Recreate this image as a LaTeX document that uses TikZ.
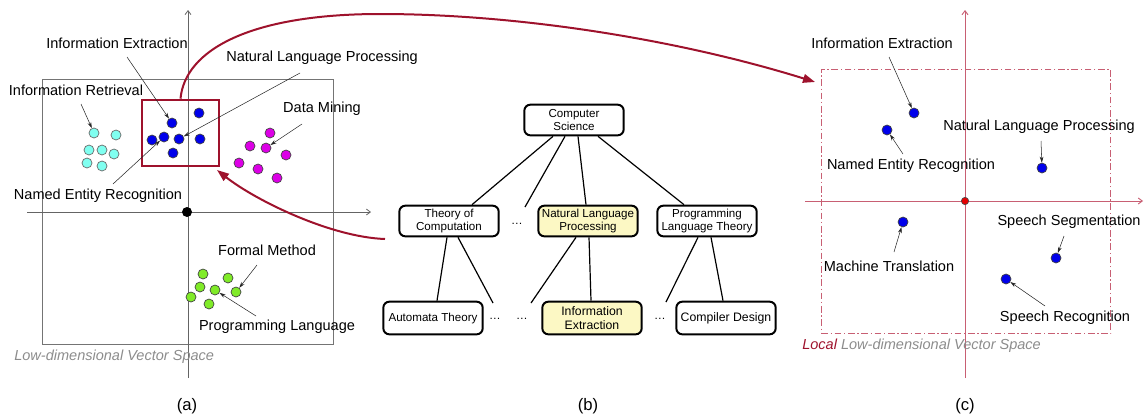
\documentclass[tikz,border=0pt]{standalone}
\usepackage{fontspec}
\setmainfont{Liberation Sans}
\usetikzlibrary{arrows.meta,calc}
\definecolor{dred}{RGB}{158,18,44}
\definecolor{axred}{RGB}{200,95,115}
\definecolor{dotblue}{RGB}{0,0,235}
\definecolor{dotcyan}{RGB}{128,255,240}
\definecolor{dotmag}{RGB}{220,0,230}
\definecolor{dotgreen}{RGB}{128,235,40}
\definecolor{nodeyel}{RGB}{252,248,196}
\definecolor{spacegray}{RGB}{140,140,140}
\definecolor{axgray}{RGB}{100,100,100}
\begin{document}
\begin{tikzpicture}[x=0.75pt,y=-0.75pt,
  lbl/.style={font=\fontsize{10.9}{12}\selectfont, inner sep=0pt},
  captxt/.style={font=\fontsize{12.5}{14}\selectfont, inner sep=0pt},
  ptr/.style={-{Stealth[length=4.5pt,width=2.8pt]}, line width=0.4pt, black!85},
  dotbase/.style={circle, draw=black!75, line width=0.5pt, minimum size=7.5pt, inner sep=0pt},
  bdot/.style={dotbase, fill=dotblue},
  cdot/.style={dotbase, fill=dotcyan, draw=black!60},
  mdot/.style={dotbase, fill=dotmag},
  gdot/.style={dotbase, fill=dotgreen},
  tbox/.style={draw, line width=1.5pt, rounded corners=4.5pt, minimum width=74.5pt,
     minimum height=23pt, align=center, inner sep=1pt, font=\fontsize{8.7}{9.8}\selectfont},
  tboxb/.style={tbox, minimum height=24.5pt},
  hl/.style={fill=nodeyel},
  tedge/.style={line width=0.9pt},
  tdots/.style={font=\fontsize{8.7}{10}\selectfont, inner sep=0pt},
  bigred/.style={draw=dred, line width=1.5pt, -{Triangle[length=9pt,width=6.5pt]}},
  gaxis/.style={draw=axgray, line width=0.6pt, -{Straight Barb[length=3pt,width=4.5pt]}},
  raxis/.style={draw=axred, line width=0.7pt, -{Straight Barb[length=3pt,width=4.5pt]}}
]
\useasboundingbox (0,0) rectangle (1144,415);

% ---------------- panel (a) ----------------
\draw[draw=axgray!90, line width=0.6pt] (42,79) rectangle (333,344);
\draw[gaxis] (188,378) -- (188,10);
\draw[gaxis] (27,212) -- (371,212);
\node[circle, fill=black, minimum size=7.5pt, inner sep=0pt] (oA) at (187,212) {};

\node[draw=dred, line width=1.5pt, minimum width=58pt, minimum height=50pt, inner sep=0pt] (nlpbox) at (180.5,133) {};

\foreach \p [count=\i] in {(172,123),(199,113),(152,140),(164,137),(179,139),(200,139),(173,153)}
  \node[bdot] (b\i) at \p {};
\foreach \p [count=\i] in {(94,133),(116,135),(89,150),(102,150),(114,154),(87,163),(102,166)}
  \node[cdot] (c\i) at \p {};
\foreach \p [count=\i] in {(270,133),(250,146),(266,148),(286,155),(239,163),(258,169),(277,178)}
  \node[mdot] (m\i) at \p {};
\foreach \p [count=\i] in {(203,274),(228,278),(200,287),(215,290),(236,292),(191,297),(209,304)}
  \node[gdot] (g\i) at \p {};

\node[lbl] (ieA) at (117,43) {Information Extraction};
\node[lbl] (nlpA) at (322,58) {Natural Language Processing};
\node[lbl] (irA) at (76,90) {Information Retrieval};
\node[lbl] (dmA) at (322,109) {Data Mining};
\node[lbl] (nerA) at (98,196) {Named Entity Recognition};
\node[lbl] (fmA) at (267,250) {Formal Method};
\node[lbl] (plA) at (277,327) {Programming Language};

\coordinate (pieA) at (127,57);
\coordinate (pnlpA) at (300,73);
\coordinate (pirA) at (81,104);
\coordinate (pdmA) at (302,124);
\coordinate (pnerA) at (113,184);
\coordinate (pfmA) at (257,265);
\coordinate (pplA) at (256,316);
\draw[ptr] (pieA) -- (b1);
\draw[ptr] (pnlpA) -- (b5);
\draw[ptr] (pirA) -- (c1);
\draw[ptr] (pdmA) -- (m3);
\draw[ptr] (pnerA) -- (b4);
\draw[ptr] (pfmA) -- (g5);
\draw[ptr] (pplA) -- (g4);

\node[lbl, anchor=west, text=spacegray, font=\fontsize{10.9}{12}\selectfont\itshape] (spaceA) at (14,357) {Low-dimensional Vector Space};
\node[captxt] (capA) at (187,406) {(a)};

% ---------------- panel (b) ----------------
\node[tbox] (cs) at (574,120) {Computer\\Science};
\node[tbox] (toc) at (449,221) {Theory of\\Computation};
\node[tbox, hl] (nlp) at (588,221) {Natural Language\\Processing};
\node[tbox] (plt) at (707,221) {Programming\\Language Theory};
\node[tboxb] (at) at (433,318) {Automata Theory};
\node[tboxb, hl, font=\fontsize{9.2}{10.5}\selectfont] (ie) at (592,318) {Information\\Extraction};
\node[tboxb, font=\fontsize{9.2}{10.5}\selectfont] (cd) at (726,318) {Compiler Design};

\node[tdots] (d1) at (517,224) {\ldots};
\node[tdots] (d2) at (495,319) {\ldots};
\node[tdots] (d3) at (522,319) {\ldots};
\node[tdots] (d4) at (660,319) {\ldots};

\coordinate (e1) at (525,207);
\coordinate (e2) at (493,303);
\coordinate (e3) at (531,303);
\coordinate (e4) at (666,302);

\draw[tedge] ($(cs.south)+(-21,0)$) -- ($(toc.north)+(23,0)$);
\draw[tedge] ($(cs.south)+(-9,0)$) -- (e1);
\draw[tedge] ($(cs.south)+(4,0)$) -- ($(nlp.north)+(-2,0)$);
\draw[tedge] ($(cs.south)+(24,0)$) -- ($(plt.north)+(-23,0)$);
\draw[tedge] ($(toc.south)+(-2,0)$) -- ($(at.north)+(4,0)$);
\draw[tedge] ($(toc.south)+(9,0)$) -- (e2);
\draw[tedge] ($(nlp.south)+(-12,0)$) -- (e3);
\draw[tedge] ($(nlp.south)+(1,0)$) -- ($(ie.north)+(-1,0)$);
\draw[tedge] ($(plt.south)+(-9,0)$) -- (e4);
\draw[tedge] ($(plt.south)+(4,0)$) -- ($(cd.north)+(-3,0)$);

\node[captxt] (capB) at (588,406) {(b)};

% ---------------- panel (c) ----------------
\draw[raxis] (965,378) -- (965,10);
\draw[raxis] (805,201) -- (1143,201);
\node[draw=axred, line width=0.6pt, dash pattern=on 5pt off 2pt on 1pt off 2pt,
  minimum width=217pt, minimum height=198.5pt, inner sep=0pt] (localbox) at (966,201.5) {};
\node[circle, fill=red!90!black, draw=black!70, line width=0.5pt, minimum size=5.5pt, inner sep=0pt] (oC) at (965,201) {};

\node[bdot] (cie) at (914,113) {};
\node[bdot] (cner) at (887,130) {};
\node[bdot] (cnlp) at (1042,168) {};
\node[bdot] (cmt) at (903,222) {};
\node[bdot] (css) at (1056,258) {};
\node[bdot] (csr) at (1006,279) {};

\node[lbl] (ieC) at (882,43) {Information Extraction};
\node[lbl] (nlpC) at (1039,127) {Natural Language Processing};
\node[lbl] (nerC) at (911,166) {Named Entity Recognition};
\node[lbl] (mtC) at (889,266) {Machine Translation};
\node[lbl] (ssC) at (1069,222) {Speech Segmentation};
\node[lbl] (srC) at (1065,318) {Speech Recognition};

\coordinate (pieC) at (889,57);
\coordinate (pnlpC) at (1041,141);
\coordinate (pnerC) at (903,154);
\coordinate (pmtC) at (894,252);
\coordinate (pssC) at (1064,236);
\coordinate (psrC) at (1045,306);
\draw[ptr] (pieC) -- (cie);
\draw[ptr] (pnlpC) -- (cnlp);
\draw[ptr] (pnerC) -- (cner);
\draw[ptr] (pmtC) -- (cmt);
\draw[ptr] (pssC) -- (css);
\draw[ptr] (psrC) -- (csr);

\node[lbl, anchor=west, font=\fontsize{10.9}{12}\selectfont\itshape] (spaceC) at (802,346)
  {\textcolor{dred}{Local} \textcolor{spacegray}{Low-dimensional Vector Space}};
\node[captxt] (capC) at (965,406) {(c)};

% ---------------- connecting curves ----------------
\coordinate (endC) at (815,82);
\draw[bigred] (nlpbox.north) .. controls (185,50) and (250,14) .. (380,14)
   .. controls (520,14) and (680,40) .. (endC);
\coordinate (startB) at (385,239);
\coordinate (tipA) at (217,170);
\draw[bigred] (startB) .. controls (330,237) and (255,200) .. (tipA);

\end{tikzpicture}
\end{document}
